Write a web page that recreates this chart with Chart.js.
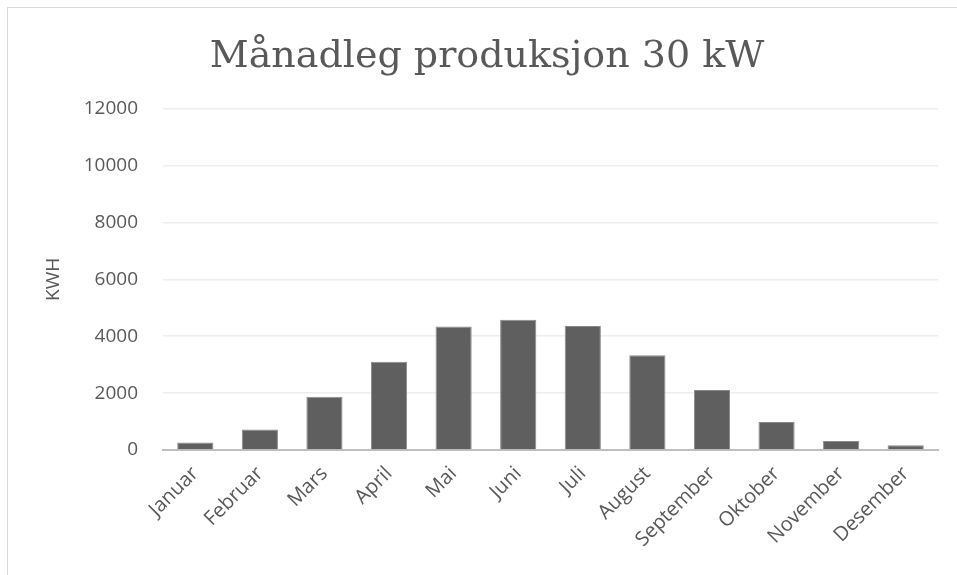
<!DOCTYPE html>
<html lang="nn">

<head>
    <meta charset="UTF-8" />
    <title>Månadleg produksjon 30 kW</title>
    <script src="https://cdn.jsdelivr.net/npm/chart.js"></script>
    <style>
        body { margin: 0; background: #fff; overflow: hidden; }
        .ramme { position: absolute; left: 7px; top: 7px; width: 1000px; height: 1000px; border: 1px solid #d9d9d9; }
        .dashboard { position: absolute; left: 0; top: 0; width: 957px; height: 575px; }
    </style>
</head>

<body>
    <div class="ramme"></div>
    <div class="dashboard">
        <canvas id="myChart"></canvas>
    </div>
</body>

<script>
    // månader og produksjon (kWh), lese av biletet
    const maanader = ['Januar', 'Februar', 'Mars', 'April', 'Mai', 'Juni', 'Juli', 'August', 'September', 'Oktober', 'November', 'Desember'];
    const produksjon = [260, 720, 1870, 3100, 4340, 4580, 4360, 3330, 2110, 980, 320, 170];
    const yMin = 0;
    const yMax = 12000;
    const ySteg = 2000;

    const tekstFarge = '#595959';

    const data = {
        labels: maanader,
        datasets: [{
            label: 'KWH',
            backgroundColor: '#5f5f5f',
            borderColor: '#8a8a8a',
            borderWidth: { top: 1, left: 1, right: 1, bottom: 0 },
            barPercentage: 0.56,
            categoryPercentage: 1,
            data: produksjon
        }]
    };

    const config = {
        type: 'bar',
        data: data,
        options: {
            responsive: true,
            maintainAspectRatio: false,
            animation: false,
            layout: {
                padding: { left: 17, right: 0, top: 0, bottom: 0 }
            },
            scales: {
                x: {
                    grid: { display: false },
                    border: { color: '#bfbfbf', width: 2 },
                    ticks: {
                        color: tekstFarge,
                        font: { family: 'Open Sans', size: 20 },
                        maxRotation: 45,
                        minRotation: 45,
                        padding: 4
                    },
                    afterFit: function (scale) { scale.height = 125; }
                },
                y: {
                    min: yMin,
                    max: yMax,
                    grid: { color: '#eeeeee', lineWidth: 1.5, drawTicks: false },
                    border: { display: false },
                    ticks: {
                        stepSize: ySteg,
                        color: tekstFarge,
                        font: { family: 'Open Sans', size: 19 },
                        padding: 25,
                        callback: function (verdi) { return String(verdi); }
                    },
                    title: {
                        display: true,
                        text: 'KWH',
                        color: tekstFarge,
                        font: { family: 'Open Sans', size: 19 },
                        padding: { top: 25, bottom: 0 }
                    },
                    afterFit: function (scale) { scale.width = 146; }
                },
                // tom akse til høgre, berre for å halde plass
                hogre: {
                    position: 'right',
                    display: true,
                    grid: { display: false },
                    border: { display: false },
                    ticks: { display: false },
                    afterFit: function (scale) { scale.width = 19; }
                }
            },
            plugins: {
                legend: { display: false },
                tooltip: { enabled: false },
                title: {
                    display: true,
                    text: 'Månadleg produksjon 30 kW',
                    color: tekstFarge,
                    font: { family: 'DejaVu Serif', size: 38, weight: 'normal' },
                    padding: { top: 34, bottom: 29 }
                }
            }
        }
    };

    const myChart = new Chart(
        document.getElementById('myChart'),
        config
    );
</script>

</html>
